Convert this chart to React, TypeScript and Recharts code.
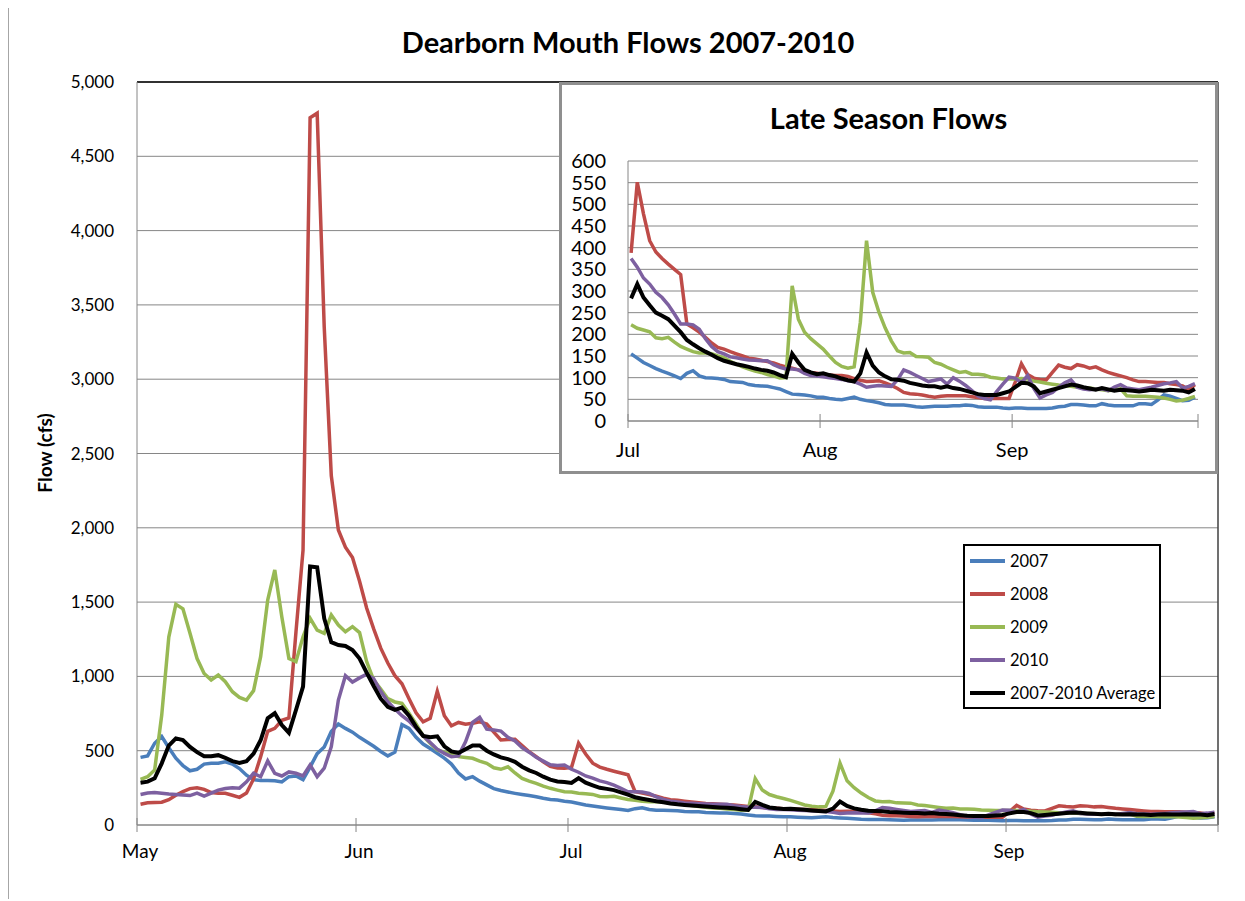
import React from "react"
import { LineChart, Line, XAxis, YAxis, CartesianGrid, ReferenceLine, Legend } from "recharts"

const FONT = "Lato, 'Noto Sans', sans-serif"

// daily flows (cfs), May 1 .. Sep 30
const flow2007 = [
  // May
  455, 465, 550, 595, 520, 450, 400, 365, 375, 410, 415, 415, 425, 410, 380, 335, 305, 300, 300, 298, 290, 325, 330, 305, 390, 480, 525, 630, 680, 650, 625,
  // Jun
  590, 560, 530, 495, 465, 490, 675, 650, 590, 545, 515, 482, 450, 410, 350, 310, 325, 295, 270, 245, 232, 222, 213, 205, 198, 190, 180, 172, 168, 160,
  // Jul
  155, 145, 135, 128, 121, 115, 110, 104, 98, 110, 116, 104, 100, 99, 98, 96, 91, 90, 89, 84, 82, 81, 80, 77, 74, 68, 62, 61, 60, 58, 55,
  // Aug
  55, 52, 50, 49, 52, 55, 50, 47, 45, 42, 38, 37, 37, 37, 35, 33, 32, 33, 34, 34, 34, 35, 35, 37, 36, 33, 32, 32, 32, 30, 29,
  // Sep
  30, 30, 29, 29, 29, 29, 30, 33, 34, 38, 38, 37, 35, 35, 40, 37, 35, 35, 35, 35, 40, 40, 38, 48, 60, 57, 52, 47, 48, 55,
]

const flow2008 = [
  140, 150, 152, 153, 170, 200, 225, 245, 251, 240, 218, 213, 213, 200, 186, 215, 310, 460, 630, 650, 705, 720, 1300, 1850, 4760, 4790, 3350, 2350, 1985, 1870, 1800,
  1640, 1460, 1320, 1190, 1090, 1005, 950, 850, 755, 695, 718, 900, 735, 668, 690, 678, 685, 695, 680, 625, 572, 575, 577, 535, 493, 460, 425, 395, 383, 382,
  388, 551, 478, 416, 390, 375, 362, 350, 338, 224, 215, 205, 193, 180, 170, 166, 160, 155, 150, 145, 143, 140, 137, 134, 129, 125, 122, 118, 115, 112, 110,
  108, 106, 105, 105, 103, 98, 94, 91, 92, 93, 88, 82, 75, 66, 63, 62, 60, 57, 55, 57, 58, 58, 58, 58, 56, 54, 52, 52, 52, 52, 52,
  90, 132, 107, 99, 96, 95, 112, 129, 124, 121, 130, 127, 122, 125, 118, 112, 108, 104, 100, 95, 91, 91, 90, 89, 89, 86, 84, 81, 72, 84,
]

const flow2009 = [
  307, 325, 370, 740, 1265, 1485, 1455, 1290, 1120, 1020, 976, 1009, 964, 897, 859, 841, 904, 1133, 1514, 1716, 1400, 1120, 1099, 1267, 1391, 1312, 1290, 1413, 1346, 1301, 1335,
  1295, 1100, 975, 915, 850, 828, 818, 752, 680, 600, 550, 505, 490, 478, 460, 455, 449, 430, 415, 385, 375, 392, 350, 314, 295, 280, 262, 247, 235, 224,
  222, 214, 210, 206, 192, 190, 193, 182, 172, 166, 160, 157, 157, 155, 150, 146, 138, 131, 125, 120, 115, 112, 107, 104, 99, 100, 312, 235, 205, 190, 178,
  166, 150, 135, 126, 122, 125, 228, 416, 297, 251, 215, 185, 162, 157, 158, 149, 148, 147, 135, 131, 124, 118, 112, 114, 108, 108, 106, 101, 99, 97, 97,
  97, 98, 97, 92, 90, 87, 85, 83, 82, 80, 78, 77, 76, 74, 72, 70, 72, 74, 58, 57, 57, 57, 56, 55, 53, 50, 46, 48, 52, 57,
]

const flow2010 = [
  205, 215, 218, 213, 208, 205, 202, 198, 215, 195, 215, 235, 245, 250, 248, 290, 348, 325, 431, 348, 330, 357, 348, 330, 404, 325, 382, 527, 841, 1005, 962,
  990, 1015, 985, 900, 830, 780, 735, 700, 650, 600, 555, 510, 482, 460, 465, 560, 690, 725, 645, 640, 632, 590, 565, 520, 490, 455, 430, 405, 400, 404,
  375, 355, 330, 316, 297, 285, 268, 247, 224, 224, 222, 212, 190, 172, 160, 155, 148, 146, 143, 141, 140, 139, 139, 130, 124, 120, 120, 118, 110, 105, 104,
  102, 100, 98, 96, 93, 91, 85, 78, 80, 82, 81, 80, 95, 118, 112, 105, 98, 91, 94, 97, 85, 100, 92, 82, 70, 58, 52, 49, 68, 85, 101,
  99, 88, 105, 75, 53, 60, 66, 78, 88, 95, 78, 74, 72, 73, 74, 70, 78, 84, 76, 74, 72, 75, 78, 82, 86, 88, 91, 76, 80, 86,
]

const flowAverage = [
  285, 292, 314, 415, 535, 583, 572, 525, 490, 462, 462, 470, 452, 430, 418, 430, 480, 570, 718, 752, 673, 621, 774, 931, 1740, 1734, 1390, 1230, 1211, 1205, 1178,
  1120, 1025, 935, 850, 795, 775, 790, 735, 660, 600, 590, 597, 530, 495, 485, 510, 535, 535, 500, 475, 455, 443, 425, 392, 368, 350, 325, 305, 293, 290,
  283, 316, 285, 267, 250, 243, 235, 220, 205, 187, 177, 168, 160, 153, 145, 139, 135, 131, 128, 125, 121, 118, 116, 112, 106, 101, 155, 135, 118, 112, 108,
  110, 106, 103, 98, 94, 91, 110, 158, 128, 112, 103, 96, 95, 93, 88, 85, 82, 80, 80, 77, 80, 76, 74, 70, 66, 62, 60, 60, 60, 64, 68,
  78, 88, 87, 80, 64, 68, 72, 76, 80, 84, 82, 78, 75, 72, 76, 73, 70, 72, 71, 70, 68, 70, 72, 71, 70, 72, 71, 70, 66, 74,
]

// month starts as day index from May 1 (153 = Oct 1, end of axis)
const monthTicks = [0, 31, 61, 92, 123, 153]
const monthNames: Record<number, string> = { 0: "May", 31: "Jun", 61: "Jul", 92: "Aug", 123: "Sep" }
const insetTicks = [61, 92, 123, 153]

const mainYTicks = [0, 500, 1000, 1500, 2000, 2500, 3000, 3500, 4000, 4500, 5000]
const insetYTicks = [0, 50, 100, 150, 200, 250, 300, 350, 400, 450, 500, 550, 600]

const SERIES = [
  { key: "y2007", name: "2007", color: "#4A7EBB", width: 3.5 },
  { key: "y2008", name: "2008", color: "#BE4B48", width: 3.5 },
  { key: "y2009", name: "2009", color: "#98B954", width: 3.5 },
  { key: "y2010", name: "2010", color: "#7D60A0", width: 3.5 },
  { key: "avg", name: "2007-2010 Average", color: "#000000", width: 4 },
]

const mainData = flowAverage.map((_, i) => ({
  day: i + 0.5,
  y2007: flow2007[i],
  y2008: flow2008[i],
  y2009: flow2009[i],
  y2010: flow2010[i],
  avg: flowAverage[i],
}))
const insetData = mainData.filter((r) => r.day > 61)

const AXIS = "#868686"

const MonthTick = ({ x, y, payload, size, base, dx = 0 }: any) => {
  const label = monthNames[payload.value] ?? ""
  return (
    <g>
      <line x1={x} x2={x} y1={y - 7} y2={y + 7} stroke={AXIS} strokeWidth={1} />
      {label && (
        <text x={x + dx} y={y + base} textAnchor="middle" fontSize={size} fill="#000" fontFamily={FONT}>
          {label}
        </text>
      )}
    </g>
  )
}

const LegendBox = () => (
  <div
    style={{
      width: 198,
      height: 165,
      border: "2px solid #000",
      background: "#fff",
      boxSizing: "border-box",
      display: "flex",
      flexDirection: "column",
      justifyContent: "center",
      fontFamily: FONT,
      textAlign: "left",
    }}
  >
    {SERIES.map((s) => (
      <div key={s.key} style={{ height: 33, flex: "0 0 33px", display: "flex", alignItems: "center" }}>
        <svg width={35} height={6} style={{ marginLeft: 5 }}>
          <line x1={0} x2={35} y1={3} y2={3} stroke={s.color} strokeWidth={4} />
        </svg>
        <span style={{ marginLeft: 5, fontSize: 16.5, color: "#000" }}>{s.name}</span>
      </div>
    ))}
  </div>
)

export default function App() {
  return (
    <div
      style={{
        position: "relative",
        width: 1236,
        height: 893,
        marginTop: -3,
        borderTop: "1px solid #a6a6a6",
        borderLeft: "1px solid #a6a6a6",
        fontFamily: FONT,
        background: "#fff",
      }}
    >
      <div
        style={{
          position: "absolute",
          left: 0,
          top: 21,
          width: 1238,
          textAlign: "center",
          fontSize: 29,
          lineHeight: "29px",
          fontWeight: 700,
        }}
      >
        Dearborn Mouth Flows 2007-2010
      </div>

      <div
        style={{
          position: "absolute",
          left: -64,
          top: 435,
          width: 200,
          height: 24,
          lineHeight: "24px",
          textAlign: "center",
          fontSize: 19,
          fontWeight: 700,
          transform: "rotate(-90deg)",
        }}
      >
        Flow (cfs)
      </div>

      <div style={{ position: "absolute", left: 0, top: 0 }}>
        <LineChart width={1228} height={880} data={mainData} margin={{ top: 76, right: 19, bottom: 31, left: 0 }}>
          <CartesianGrid vertical={false} stroke={AXIS} />
          <XAxis
            type="number"
            dataKey="day"
            domain={[0, 153]}
            ticks={monthTicks}
            interval={0}
            height={30}
            tickSize={0}
            tickMargin={0}
            tickLine={false}
            axisLine={{ stroke: AXIS }}
            tick={(p: any) => <MonthTick {...p} size={19} base={33} dx={3} />}
          />
          <YAxis
            domain={[0, 5000]}
            ticks={mainYTicks}
            interval={0}
            width={128}
            tickSize={0}
            tickMargin={23}
            tickLine={false}
            axisLine={{ stroke: AXIS }}
            tick={{ fontSize: 17, fill: "#000", fontFamily: FONT }}
            tickFormatter={(v: number) => v.toLocaleString("en-US")}
          />
          <ReferenceLine y={5000} stroke="#000" strokeWidth={1.5} />
          <ReferenceLine x={153} stroke="#404040" strokeWidth={1.5} />
          {SERIES.map((s) => (
            <Line
              key={s.key}
              type="linear"
              dataKey={s.key}
              name={s.name}
              stroke={s.color}
              strokeWidth={s.width}
              dot={false}
              isAnimationActive={false}
            />
          ))}
          <Legend
            layout="vertical"
            align="center"
            verticalAlign="middle"
            content={() => <LegendBox />}
            wrapperStyle={{ left: 954, top: 538, width: 198, height: 165 }}
          />
        </LineChart>
      </div>

      <div
        style={{
          position: "absolute",
          left: 550,
          top: 76,
          width: 659,
          height: 392,
          border: "3px solid #8f8f8f",
          boxSizing: "border-box",
          background: "#fff",
        }}
      >
        <div
          style={{
            position: "absolute",
            left: 0,
            top: 18,
            width: 653,
            textAlign: "center",
            fontSize: 29,
            lineHeight: "29px",
            fontWeight: 700,
            zIndex: 2,
          }}
        >
          Late Season Flows
        </div>
        <LineChart width={653} height={386} data={insetData} margin={{ top: 76, right: 17, bottom: 20, left: 0 }}>
          <CartesianGrid vertical={false} stroke={AXIS} />
          <XAxis
            type="number"
            dataKey="day"
            domain={[61, 153]}
            ticks={insetTicks}
            interval={0}
            height={30}
            tickSize={0}
            tickMargin={0}
            tickLine={false}
            axisLine={{ stroke: AXIS }}
            tick={(p: any) => <MonthTick {...p} size={20} base={36} />}
          />
          <YAxis
            domain={[0, 600]}
            ticks={insetYTicks}
            interval={0}
            width={66}
            tickSize={0}
            tickMargin={22}
            tickLine={false}
            axisLine={{ stroke: AXIS }}
            tick={{ fontSize: 20, fill: "#000", fontFamily: FONT }}
          />
          {SERIES.map((s) => (
            <Line
              key={s.key}
              type="linear"
              dataKey={s.key}
              stroke={s.color}
              strokeWidth={s.width}
              dot={false}
              isAnimationActive={false}
            />
          ))}
        </LineChart>
      </div>
    </div>
  )
}
